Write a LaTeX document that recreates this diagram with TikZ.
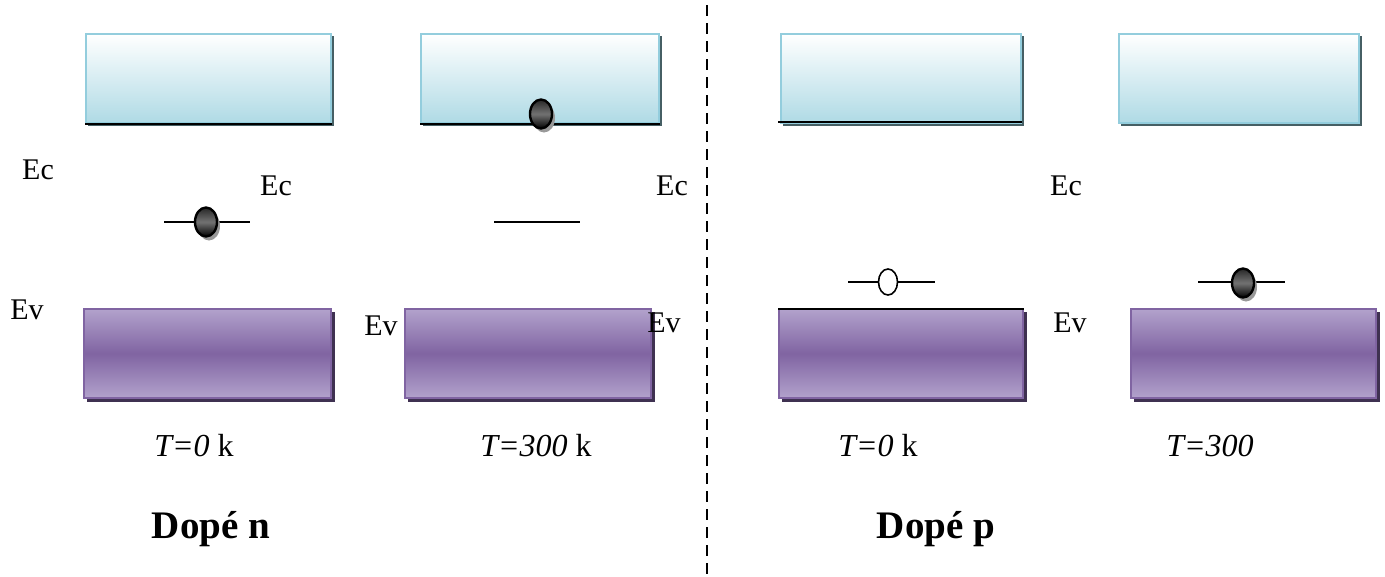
\documentclass[tikz,border=0pt]{standalone}
\usepackage{fontspec}
\setmainfont{Liberation Serif}
\usetikzlibrary{shapes.geometric}
\definecolor{cbord}{RGB}{147,205,221}
\definecolor{cbot}{RGB}{175,218,229}
\definecolor{cshad}{RGB}{70,95,100}
\definecolor{vmid}{RGB}{128,100,162}
\definecolor{vlight}{RGB}{178,162,204}
\definecolor{vshad}{RGB}{63,49,81}
\tikzset{
  cband/.style={draw=cbord, line width=2pt, top color=white, bottom color=cbot, minimum height=89pt, inner sep=0pt},
  cshadow/.style={fill=cshad},
  vband/.style={draw=vmid, line width=2pt, top color=vlight, bottom color=vlight, middle color=vmid, minimum height=89pt, inner sep=0pt},
  vshadow/.style={fill=vshad},
  lbl/.style={font=\fontsize{30}{36}\selectfont, inner sep=0pt},
  tlbl/.style={font=\fontsize{32}{38}\selectfont, inner sep=0pt},
  ttl/.style={font=\fontsize{39}{46}\selectfont\bfseries, inner sep=0pt},
  level/.style={line width=1.6pt},
  electron/.style={ellipse, draw=black, line width=2.4pt, minimum width=22pt, minimum height=29pt, inner sep=0pt, top color=black!85, bottom color=black, middle color=black!55},
  eshadow/.style={ellipse, fill=black!40, minimum width=22pt, minimum height=29pt, inner sep=0pt},
  hole/.style={ellipse, draw=black, line width=1.6pt, fill=white, minimum width=19pt, minimum height=26pt, inner sep=0pt},
}
\begin{document}
\begin{tikzpicture}[x=1pt,y=-1pt]
\useasboundingbox (0,0) rectangle (1385,576);
% conduction bands (top)
\foreach \xa/\xb/\nm in {85/330/c1,420/658/c2,780/1020/c3,1118/1358/c4}{
  \fill[cshadow] (\xa+3,36) rectangle (\xb+4,126);
  \node[cband, minimum width={\xb-\xa}, anchor=north west] (\nm) at (\xa,33) {};
}
\draw[line width=2pt] (c1.south west) -- (c1.south east);
\draw[line width=2pt] (c2.south west) -- (c2.south east);
\draw[line width=2pt] ([xshift=-2pt,yshift=2pt]c3.south west) -- ([yshift=2pt]c3.south east);
% valence bands (bottom)
\foreach \xa/\xb/\nm in {83/330/v1,404/650/v2,778/1022/v3,1130/1375/v4}{
  \fill[vshadow] (\xa+4,312) rectangle (\xb+5,402);
  \node[vband, minimum width={\xb-\xa}, anchor=north west] (\nm) at (\xa,308) {};
}
\draw[line width=2pt] ([yshift=-1pt]v3.north west) -- ([yshift=-1pt]v3.north east);
% donor / acceptor levels
\coordinate (l1a) at (164,222); \coordinate (l1b) at (250,222);
\coordinate (l2a) at (494,222); \coordinate (l2b) at (580,222);
\coordinate (l3a) at (848,282); \coordinate (l3b) at (935,282);
\coordinate (l4a) at (1198,282); \coordinate (l4b) at (1285,282);
\draw[level] (l1a) -- (l1b);
\draw[level] (l2a) -- (l2b);
\draw[level] (l3a) -- (l3b);
\draw[level] (l4a) -- (l4b);
% electrons
\node[eshadow] (s1) at (209,226) {};
\node[electron] (e1) at (206,222) {};
\node[eshadow] (s2) at (544,118) {};
\node[electron] (e2) at (541,114) {};
\node[eshadow] (s4) at (1246,287) {};
\node[electron] (e4) at (1243,283) {};
\node[hole] (h3) at (888,282) {};
% labels
\node[lbl] (ec1) at (38,170) {Ec};
\node[lbl] (ec2) at (276,186) {Ec};
\node[lbl] (ec3) at (672,186) {Ec};
\node[lbl] (ec4) at (1066,186) {Ec};
\node[lbl] (ev1) at (27,310) {Ev};
\node[lbl] (ev2) at (381,326) {Ev};
\node[lbl] (ev3) at (664,323) {Ev};
\node[lbl] (ev4) at (1070,323) {Ev};
\node[tlbl] (t1) at (194,446) {\textit{T=0} k};
\node[tlbl] (t2) at (536,446) {\textit{T=300} k};
\node[tlbl] (t3) at (878,446) {\textit{T=0} k};
\node[tlbl] (t4) at (1210,446) {\textit{T=300}};
\node[ttl] (dn) at (211,529) {Dopé n};
\node[ttl] (dp) at (936,529) {Dopé p};
% separator
\coordinate (sa) at (707,5); \coordinate (sb) at (707,576);
\draw[line width=2.4pt, dash pattern=on 11pt off 7pt] (sa) -- (sb);
\end{tikzpicture}
\end{document}
